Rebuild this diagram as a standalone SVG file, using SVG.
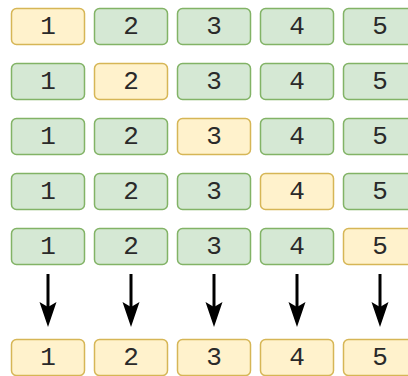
<svg xmlns="http://www.w3.org/2000/svg" width="408" height="376" viewBox="0 0 408 376">
<style>
.g{fill:#d5e8d4;stroke:#82b366;stroke-width:1.5}
.y{fill:#fff2cc;stroke:#d6b656;stroke-width:1.5}
text{font-family:"Liberation Mono","Courier New",monospace;font-size:26px;fill:#2a2a2a;text-anchor:middle;dominant-baseline:central}
.a{stroke:#000;stroke-width:3;fill:none}
</style>
<defs>
<path id="ah" d="M0,0 L-8.5,-25 L0,-20 L8.5,-25 Z" fill="#000"/>
</defs>
<g id="r1c1"><rect class="y" x="11.5" y="8.5" width="73" height="36" rx="5"/><text x="48" y="26.5">1</text></g>
<g id="r1c2"><rect class="g" x="94.5" y="8.5" width="73" height="36" rx="5"/><text x="131" y="26.5">2</text></g>
<g id="r1c3"><rect class="g" x="177.5" y="8.5" width="73" height="36" rx="5"/><text x="214" y="26.5">3</text></g>
<g id="r1c4"><rect class="g" x="260.5" y="8.5" width="73" height="36" rx="5"/><text x="297" y="26.5">4</text></g>
<g id="r1c5"><rect class="g" x="343.5" y="8.5" width="73" height="36" rx="5"/><text x="380" y="26.5">5</text></g>

<g id="r2c1"><rect class="g" x="11.5" y="63.5" width="73" height="36" rx="5"/><text x="48" y="81.5">1</text></g>
<g id="r2c2"><rect class="y" x="94.5" y="63.5" width="73" height="36" rx="5"/><text x="131" y="81.5">2</text></g>
<g id="r2c3"><rect class="g" x="177.5" y="63.5" width="73" height="36" rx="5"/><text x="214" y="81.5">3</text></g>
<g id="r2c4"><rect class="g" x="260.5" y="63.5" width="73" height="36" rx="5"/><text x="297" y="81.5">4</text></g>
<g id="r2c5"><rect class="g" x="343.5" y="63.5" width="73" height="36" rx="5"/><text x="380" y="81.5">5</text></g>

<g id="r3c1"><rect class="g" x="11.5" y="118.5" width="73" height="36" rx="5"/><text x="48" y="136.5">1</text></g>
<g id="r3c2"><rect class="g" x="94.5" y="118.5" width="73" height="36" rx="5"/><text x="131" y="136.5">2</text></g>
<g id="r3c3"><rect class="y" x="177.5" y="118.5" width="73" height="36" rx="5"/><text x="214" y="136.5">3</text></g>
<g id="r3c4"><rect class="g" x="260.5" y="118.5" width="73" height="36" rx="5"/><text x="297" y="136.5">4</text></g>
<g id="r3c5"><rect class="g" x="343.5" y="118.5" width="73" height="36" rx="5"/><text x="380" y="136.5">5</text></g>

<g id="r4c1"><rect class="g" x="11.5" y="173.5" width="73" height="36" rx="5"/><text x="48" y="191.5">1</text></g>
<g id="r4c2"><rect class="g" x="94.5" y="173.5" width="73" height="36" rx="5"/><text x="131" y="191.5">2</text></g>
<g id="r4c3"><rect class="g" x="177.5" y="173.5" width="73" height="36" rx="5"/><text x="214" y="191.5">3</text></g>
<g id="r4c4"><rect class="y" x="260.5" y="173.5" width="73" height="36" rx="5"/><text x="297" y="191.5">4</text></g>
<g id="r4c5"><rect class="g" x="343.5" y="173.5" width="73" height="36" rx="5"/><text x="380" y="191.5">5</text></g>

<g id="r5c1"><rect class="g" x="11.5" y="228.5" width="73" height="36" rx="5"/><text x="48" y="246.5">1</text></g>
<g id="r5c2"><rect class="g" x="94.5" y="228.5" width="73" height="36" rx="5"/><text x="131" y="246.5">2</text></g>
<g id="r5c3"><rect class="g" x="177.5" y="228.5" width="73" height="36" rx="5"/><text x="214" y="246.5">3</text></g>
<g id="r5c4"><rect class="g" x="260.5" y="228.5" width="73" height="36" rx="5"/><text x="297" y="246.5">4</text></g>
<g id="r5c5"><rect class="y" x="343.5" y="228.5" width="73" height="36" rx="5"/><text x="380" y="246.5">5</text></g>

<g id="r6c1"><rect class="y" x="11.5" y="339.5" width="73" height="36" rx="5"/><text x="48" y="357.5">1</text></g>
<g id="r6c2"><rect class="y" x="94.5" y="339.5" width="73" height="36" rx="5"/><text x="131" y="357.5">2</text></g>
<g id="r6c3"><rect class="y" x="177.5" y="339.5" width="73" height="36" rx="5"/><text x="214" y="357.5">3</text></g>
<g id="r6c4"><rect class="y" x="260.5" y="339.5" width="73" height="36" rx="5"/><text x="297" y="357.5">4</text></g>
<g id="r6c5"><rect class="y" x="343.5" y="339.5" width="73" height="36" rx="5"/><text x="380" y="357.5">5</text></g>

<g id="connectors">
<line class="a" x1="48" y1="274" x2="48" y2="308"/><use href="#ah" x="48" y="327"/>
<line class="a" x1="131" y1="274" x2="131" y2="308"/><use href="#ah" x="131" y="327"/>
<line class="a" x1="214" y1="274" x2="214" y2="308"/><use href="#ah" x="214" y="327"/>
<line class="a" x1="297" y1="274" x2="297" y2="308"/><use href="#ah" x="297" y="327"/>
<line class="a" x1="380" y1="274" x2="380" y2="308"/><use href="#ah" x="380" y="327"/>
</g>
</svg>
